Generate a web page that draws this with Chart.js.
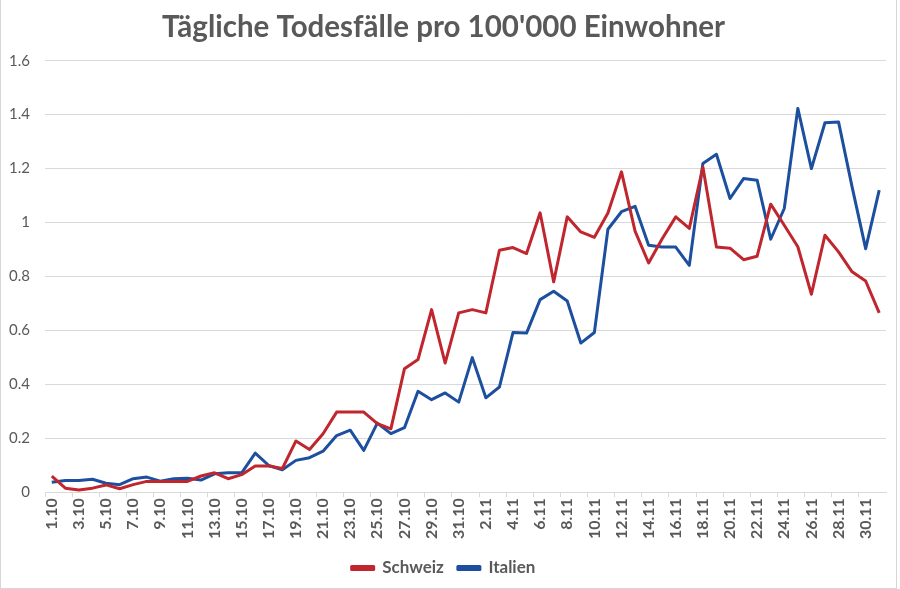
<!DOCTYPE html>
<html>
<head>
<meta charset="utf-8">
<title>Tägliche Todesfälle pro 100'000 Einwohner</title>
<script src="https://cdn.jsdelivr.net/npm/chart.js@4.4.1/dist/chart.umd.min.js"></script>
<style>
  html, body { margin: 0; padding: 0; background: #fff; }
  #wrap {
    position: relative; width: 897px; height: 589px; box-sizing: border-box;
    border-left: 1px solid #d6d6d6; border-right: 1px solid #d6d6d6; border-bottom: 1px solid #d6d6d6;
  }
  canvas { display: block; }
</style>
</head>
<body>
<div id="wrap"><canvas id="chart" width="895" height="588"></canvas></div>
<script>
// ------------------------------------------------------------
// Data
// ------------------------------------------------------------
const days = [
  "1.10","2.10","3.10","4.10","5.10","6.10","7.10","8.10","9.10","10.10",
  "11.10","12.10","13.10","14.10","15.10","16.10","17.10","18.10","19.10","20.10",
  "21.10","22.10","23.10","24.10","25.10","26.10","27.10","28.10","29.10","30.10","31.10",
  "1.11","2.11","3.11","4.11","5.11","6.11","7.11","8.11","9.11","10.11",
  "11.11","12.11","13.11","14.11","15.11","16.11","17.11","18.11","19.11","20.11",
  "21.11","22.11","23.11","24.11","25.11","26.11","27.11","28.11","29.11","30.11",
  "1.12"
];

const schweiz = [
  0.06, 0.015, 0.008, 0.015, 0.027, 0.013, 0.028, 0.04, 0.04, 0.04, 0.04, 0.06, 0.072, 0.05,
  0.065, 0.097, 0.097, 0.088, 0.19, 0.158, 0.217, 0.297, 0.297, 0.297, 0.254, 0.235, 0.458, 0.492,
  0.677, 0.479, 0.665, 0.677, 0.665, 0.897, 0.907, 0.885, 1.036, 0.78, 1.021, 0.965, 0.945, 1.035,
  1.188, 0.968, 0.85, 0.94, 1.021, 0.978, 1.206, 0.909, 0.905, 0.862, 0.875, 1.068, 0.99, 0.91,
  0.734, 0.953, 0.891, 0.817, 0.783, 0.665
];

const italien = [
  0.037, 0.043, 0.043, 0.048, 0.033, 0.028, 0.05, 0.056, 0.041, 0.05, 0.052, 0.045, 0.068, 0.072,
  0.072, 0.145, 0.099, 0.083, 0.118, 0.128, 0.152, 0.21, 0.23, 0.155, 0.256, 0.217, 0.239, 0.374,
  0.343, 0.368, 0.334, 0.499, 0.35, 0.39, 0.592, 0.59, 0.714, 0.745, 0.709, 0.553, 0.592, 0.975,
  1.04, 1.06, 0.916, 0.909, 0.909, 0.841, 1.219, 1.253, 1.089, 1.163, 1.157, 0.938, 1.052, 1.423,
  1.2, 1.37, 1.373, 1.132, 0.903, 1.12
];

const yTicks = [0, 0.2, 0.4, 0.6, 0.8, 1, 1.2, 1.4, 1.6];
const yTickLabels = ["0", "0.2", "0.4", "0.6", "0.8", "1", "1.2", "1.4", "1.6"];

// ------------------------------------------------------------
// Style
// ------------------------------------------------------------
const RED = "#c0262d";
const BLUE = "#1d4f9f";
const TEXT = "#595959";
const GRID = "#d9d9d9";
const FONT = "Lato, 'Open Sans', sans-serif";

const mkSeries = (label, data, color) => ({
  label, data,
  borderColor: color, backgroundColor: color,
  borderWidth: 3, pointRadius: 0, tension: 0,
  borderJoinStyle: "round"
});

new Chart(document.getElementById("chart"), {
  type: "line",
  data: {
    labels: days,
    datasets: [
      mkSeries("Schweiz", schweiz, RED),
      mkSeries("Italien", italien, BLUE)
    ]
  },
  options: {
    responsive: false,
    animation: false,
    devicePixelRatio: 1,
    layout: { padding: { left: 0, right: 10, top: 0, bottom: 1.5 } },
    plugins: {
      title: {
        display: true,
        text: "Tägliche Todesfälle pro 100'000 Einwohner",
        color: TEXT,
        font: { family: FONT, size: 29.5, weight: "bold" },
        padding: { top: 9.3, bottom: 16 }
      },
      legend: {
        position: "bottom",
        labels: {
          color: TEXT,
          font: { family: FONT, size: 17, weight: "bold" },
          boxWidth: 22, boxHeight: 3, padding: 14
        }
      },
      tooltip: { enabled: false }
    },
    scales: {
      x: {
        offset: true,
        grid: {
          display: true, offset: true, drawOnChartArea: false, drawTicks: true, tickLength: 5,
          color: (ctx) => (ctx.index % 2 === 0 ? GRID : "rgba(0,0,0,0)")
        },
        border: { display: true, color: GRID, width: 1 },
        ticks: {
          autoSkip: false, maxRotation: 90, minRotation: 90, padding: 1,
          color: TEXT,
          font: { family: FONT, size: 16, weight: "bold" },
          callback: (v, i) => (i % 2 === 0 ? days[i] : "")
        },
        afterFit: (s) => { s.height = 53.3; s.paddingLeft = 0; s.paddingRight = 0; }
      },
      y: {
        min: 0, max: 1.6,
        border: { display: false },
        grid: { color: GRID, lineWidth: 1, drawTicks: false },
        afterBuildTicks: (s) => { s.ticks = yTicks.map(v => ({ value: v })); },
        ticks: {
          padding: 15,
          color: TEXT,
          font: { family: FONT, size: 15 },
          callback: (v) => yTickLabels[yTicks.indexOf(v)] ?? ""
        },
        afterFit: (s) => { s.width = 44; }
      }
    }
  }
});
</script>
</body>
</html>
